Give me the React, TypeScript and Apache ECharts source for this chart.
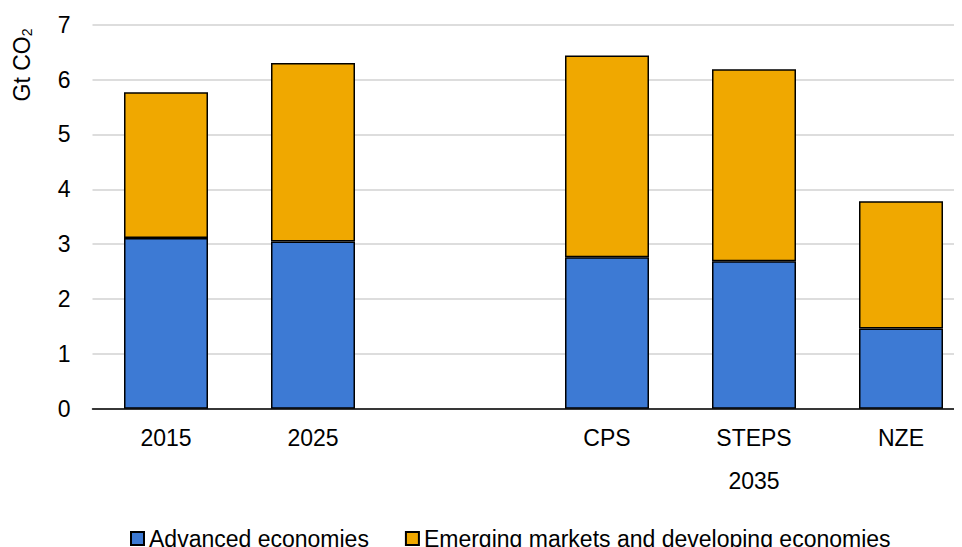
import React, { useEffect, useRef } from "react";
import * as echarts from "echarts";

const categories = ["2015", "2025", "", "CPS", "STEPS", "NZE"];
const groupLabels = ["", "", "", "", "2035", ""];
const advanced = [3.11, 3.05, null, 2.76, 2.69, 1.46];
const emerging = [2.66, 3.25, null, 3.68, 3.5, 2.32];
const yTicks = { min: 0, max: 7, interval: 1 };
const seriesNames = ["Advanced economies", "Emerging markets and developing economies"];

const FONT = "'Liberation Sans', Arial, sans-serif";

export default function App() {
  const ref = useRef<HTMLDivElement>(null);
  useEffect(() => {
    if (!ref.current) return;
    const chart = echarts.init(ref.current, null, { renderer: "svg" });
    chart.setOption({
      animation: false,
      textStyle: { fontFamily: FONT, color: "#000" },
      grid: { left: 92.5, right: 5.5, top: 24.7, bottom: 138.3, containLabel: false },
      legend: {
        left: 125,
        top: 522,
        itemWidth: 13,
        itemHeight: 13,
        itemGap: 36,
        icon: "rect",
        textStyle: { fontFamily: FONT, fontSize: 23, color: "#000" },
        data: seriesNames,
      },
      xAxis: [
        {
          type: "category",
          data: categories,
          axisLine: { show: true, lineStyle: { color: "#000", width: 1.5 } },
          axisTick: { show: false },
          axisLabel: { fontFamily: FONT, fontSize: 23, color: "#000", margin: 18 },
        },
        {
          type: "category",
          data: categories,
          position: "bottom",
          offset: 43,
          axisLine: { show: false },
          axisTick: { show: false },
          axisLabel: {
            fontFamily: FONT,
            fontSize: 23,
            color: "#000",
            margin: 18,
            formatter: (_v: string, i: number) => groupLabels[i],
          },
        },
      ],
      yAxis: {
        type: "value",
        min: yTicks.min,
        max: yTicks.max,
        interval: yTicks.interval,
        axisLine: { show: false },
        axisTick: { show: false },
        axisLabel: { fontFamily: FONT, fontSize: 23, color: "#000", margin: 22 },
        splitLine: { lineStyle: { color: "#DDDDDD", width: 2 } },
      },
      graphic: [
        {
          type: "text",
          x: 22,
          y: 65,
          rotation: Math.PI / 2,
          style: {
            text: "Gt CO{sub|2}",
            fontFamily: FONT,
            fontSize: 23,
            fill: "#000",
            align: "center",
            verticalAlign: "middle",
            rich: {
              sub: { fontFamily: FONT, fontSize: 14, fill: "#000", padding: [10, 0, 0, 0] },
            },
          },
        },
      ],
      series: [
        {
          name: seriesNames[0],
          type: "bar",
          stack: "total",
          barWidth: 84,
          data: advanced,
          itemStyle: { color: "#3D7AD4", borderColor: "#000", borderWidth: 1.5 },
        },
        {
          name: seriesNames[1],
          type: "bar",
          stack: "total",
          barWidth: 84,
          data: emerging,
          itemStyle: { color: "#F0A800", borderColor: "#000", borderWidth: 1.5 },
        },
      ],
    });
    return () => chart.dispose();
  }, []);
  return (
    <div style={{ width: 962, height: 547, overflow: "hidden", marginLeft: -8, marginTop: -8, position: "relative" }}>
      <div ref={ref} style={{ width: 980, height: 547 }} />
    </div>
  );
}
